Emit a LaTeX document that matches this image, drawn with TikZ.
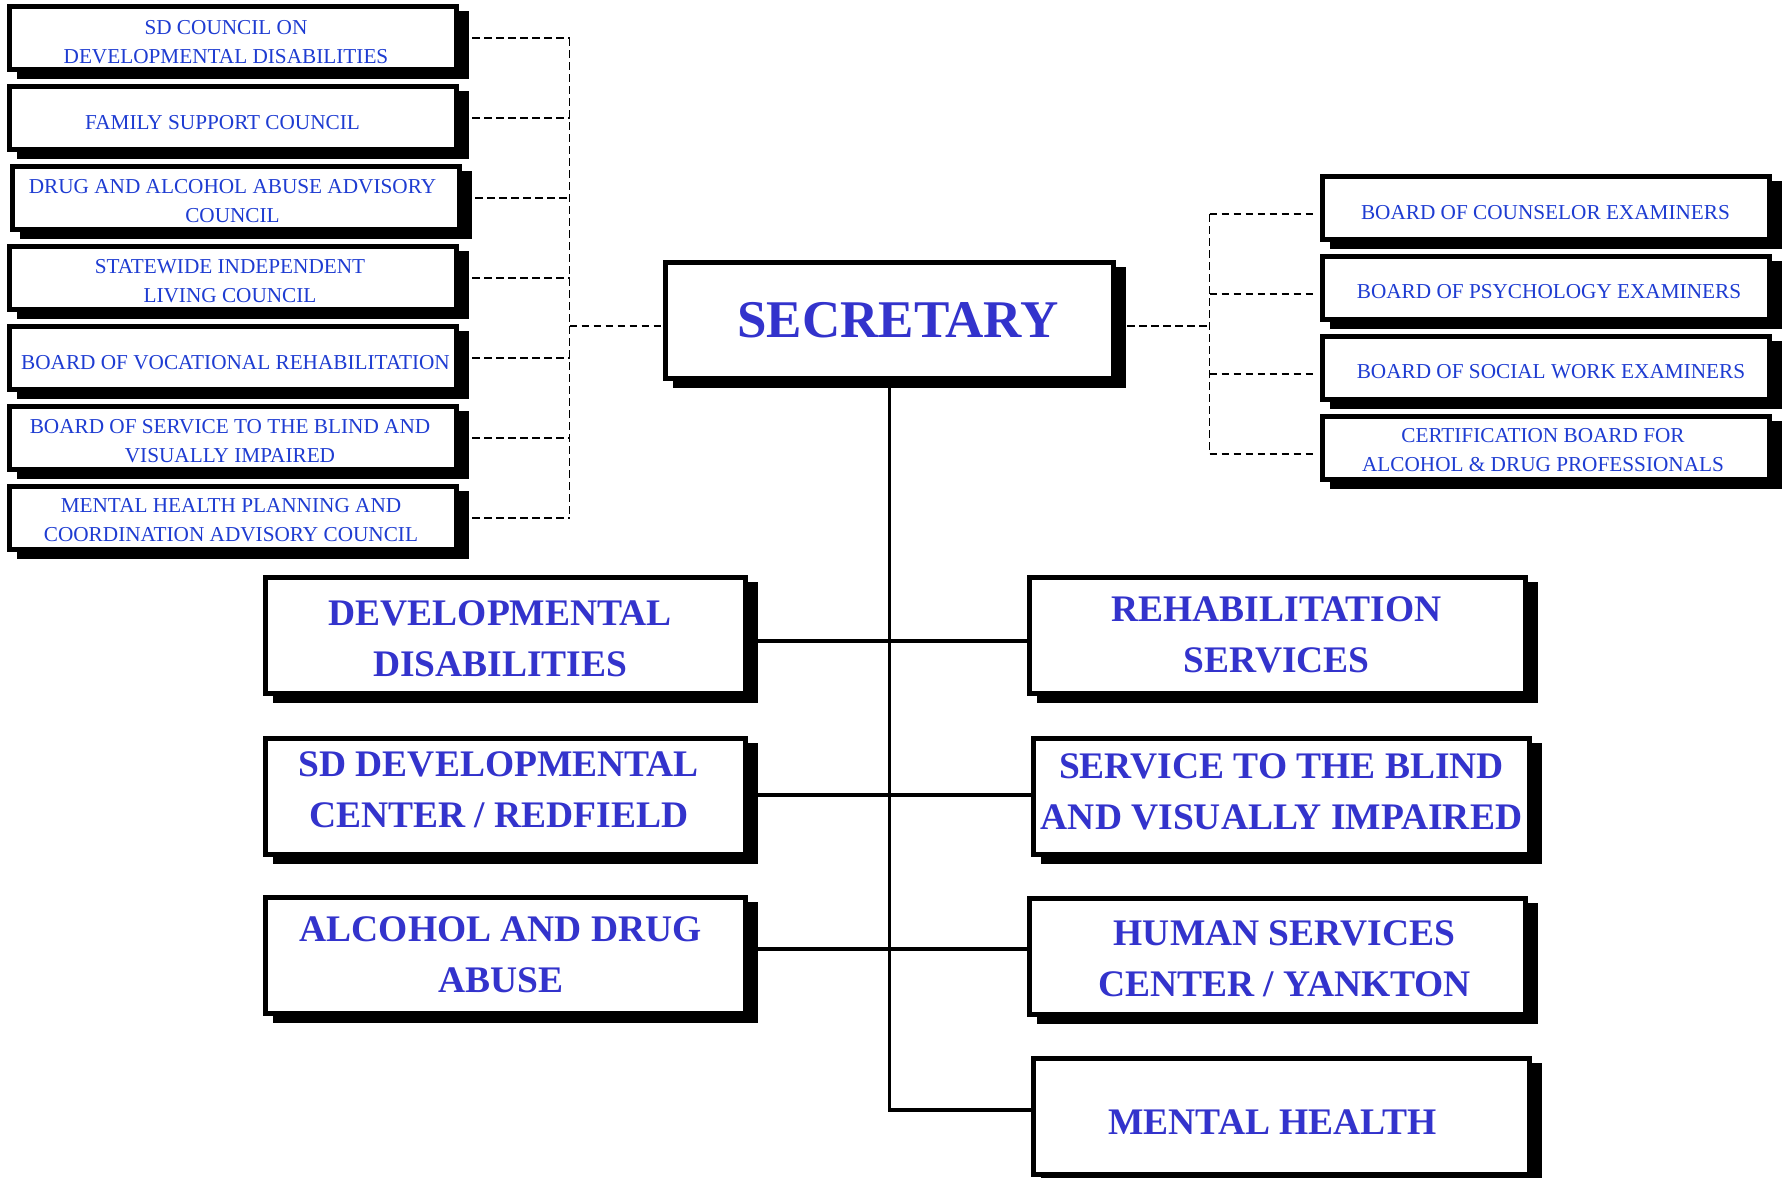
\documentclass[tikz,border=0pt]{standalone}
\usepackage{fontspec}
\setmainfont{Liberation Serif}
\definecolor{smallblue}{RGB}{30,60,210}
\definecolor{bigblue}{RGB}{51,51,204}
\tikzset{
  shadowed/.style={preaction={draw=black, fill=black, line width=5pt, transform canvas={xshift=10pt, yshift=-7pt}}},
  orgframe/.style={shadowed, draw=black, fill=white, line width=5pt, inner sep=0pt},
  smallbox/.style={orgframe, minimum width=447pt, minimum height=63pt},
  bigboxl/.style={orgframe, minimum width=480.5pt, minimum height=116pt},
  bigboxr/.style={orgframe, minimum width=496pt, minimum height=116pt},
  secbox/.style={orgframe, minimum width=448pt, minimum height=116pt},
  smalltext/.style={inner sep=0pt, align=center, text=smallblue, font=\fontsize{21.25}{29}\selectfont},
  bigtext/.style={inner sep=0pt, align=center, text=bigblue, font=\fontsize{37.5}{51}\selectfont\bfseries},
  sectext/.style={inner sep=0pt, align=center, text=bigblue, font=\fontsize{53}{60}\selectfont\bfseries},
  dashline/.style={line width=1.6pt, dash pattern=on 7.5pt off 4.5pt},
  solidline/.style={line width=3.3pt},
}
% #1 box style, #2 text style, #3 name, #4 x, #5 y, #6 dx, #7 dy, #8 text
\newcommand\orgbox[8]{%
  \node[#1] (#3) at (#4,#5) {};
  \node[#2] (#3-t) at (#4+#6,#5+#7) {#8};}
\begin{document}
\begin{tikzpicture}[x=1pt,y=-1pt]
\useasboundingbox (0,0) rectangle (1786,1178);
\fill[white] (0,0) rectangle (1786,1178);
\clip (0,0) rectangle (1786,1178);

% left advisory boxes
\orgbox{smallbox}{smalltext}{l1}{233}{38}{-7}{3.7}{SD COUNCIL ON\\DEVELOPMENTAL DISABILITIES}
\orgbox{smallbox}{smalltext}{l2}{233}{118}{-10.5}{4.5}{FAMILY SUPPORT COUNCIL}
\orgbox{smallbox}{smalltext}{l3}{236}{198}{-3.5}{2.8}{DRUG AND ALCOHOL ABUSE ADVISORY\\COUNCIL}
\orgbox{smallbox}{smalltext}{l4}{233}{278}{-3}{3.5}{STATEWIDE INDEPENDENT\\LIVING COUNCIL}
\orgbox{smallbox}{smalltext}{l5}{233}{358}{2.5}{5}{BOARD OF VOCATIONAL REHABILITATION}
\orgbox{smallbox}{smalltext}{l6}{233}{438}{-3}{3}{BOARD OF SERVICE TO THE BLIND AND\\VISUALLY IMPAIRED}
\orgbox{smallbox}{smalltext}{l7}{233}{518}{-2}{2.5}{MENTAL HEALTH PLANNING AND\\COORDINATION ADVISORY COUNCIL}

% right boards
\orgbox{smallbox}{smalltext}{r1}{1545.5}{208}{0}{4.5}{BOARD OF COUNSELOR EXAMINERS}
\orgbox{smallbox}{smalltext}{r2}{1545.5}{288}{3.5}{3.5}{BOARD OF PSYCHOLOGY EXAMINERS}
\orgbox{smallbox}{smalltext}{r3}{1545.5}{368}{5.5}{3.5}{BOARD OF SOCIAL WORK EXAMINERS}
\orgbox{smallbox}{smalltext}{r4}{1545.5}{448}{-2.5}{2}{CERTIFICATION BOARD FOR\\ALCOHOL \& DRUG PROFESSIONALS}

% secretary
\orgbox{secbox}{sectext}{sec}{889.5}{320.5}{8.5}{0}{SECRETARY}

% divisions
\orgbox{bigboxl}{bigtext}{dd}{505.25}{635.5}{-5}{3.5}{DEVELOPMENTAL\\DISABILITIES}
\orgbox{bigboxl}{bigtext}{sd}{505.25}{796}{-6.5}{-6.5}{SD DEVELOPMENTAL\\CENTER / REDFIELD}
\orgbox{bigboxl}{bigtext}{ada}{505.25}{955}{-4.5}{0}{ALCOHOL AND DRUG\\ABUSE}
\orgbox{bigboxr}{bigtext}{rs}{1277.5}{635.5}{-1}{-1}{REHABILITATION\\SERVICES}
\orgbox{bigboxr}{bigtext}{sb}{1281.5}{796}{0}{-4.5}{SERVICE TO THE BLIND\\AND VISUALLY IMPAIRED}
\orgbox{bigboxr}{bigtext}{hsc}{1277.5}{956}{7}{3}{HUMAN SERVICES\\CENTER / YANKTON}
\orgbox{bigboxr}{bigtext}{mh}{1281.5}{1116.5}{-9}{5.5}{MENTAL HEALTH}

% left dashed connectors
\coordinate (lv) at (569.5,0);
\foreach \n in {l1,l2,l3,l4,l5,l6,l7}{
  \draw[dashline] ([xshift=13pt]\n.east) -- (\n.east -| lv);
}
\draw[dashline] (l1.east -| lv) -- (l7.east -| lv);
\coordinate (sl) at ([yshift=-5.5pt]sec.west);
\draw[dashline] (sl -| lv) -- (sl);

% right dashed connectors
\coordinate (rv) at (1209.5,0);
\foreach \n in {r1,r2,r3,r4}{
  \coordinate (\n-p) at ([yshift=-6pt]\n.west);
  \draw[dashline] (\n-p -| rv) -- ([xshift=-4pt]\n-p);
}
\draw[dashline] (r1-p -| rv) -- (r4-p -| rv);
\coordinate (sr) at ([xshift=11pt,yshift=-5.5pt]sec.east);
\draw[dashline] (sr) -- (sr -| rv);

% solid connectors
\coordinate (mhc) at ([yshift=6.5pt]mh.west);
\draw[solidline] (sec.south) |- (mhc);
\coordinate (c1) at ([yshift=-5.5pt]dd.east);
\draw[solidline] (c1) -- (c1 -| rs.west);
\coordinate (c2) at ([yshift=1pt]sd.east);
\draw[solidline] (c2) -- (c2 -| sb.west);
\coordinate (c3) at ([yshift=6pt]ada.east);
\draw[solidline] (c3) -- (c3 -| hsc.west);
\end{tikzpicture}
\end{document}
